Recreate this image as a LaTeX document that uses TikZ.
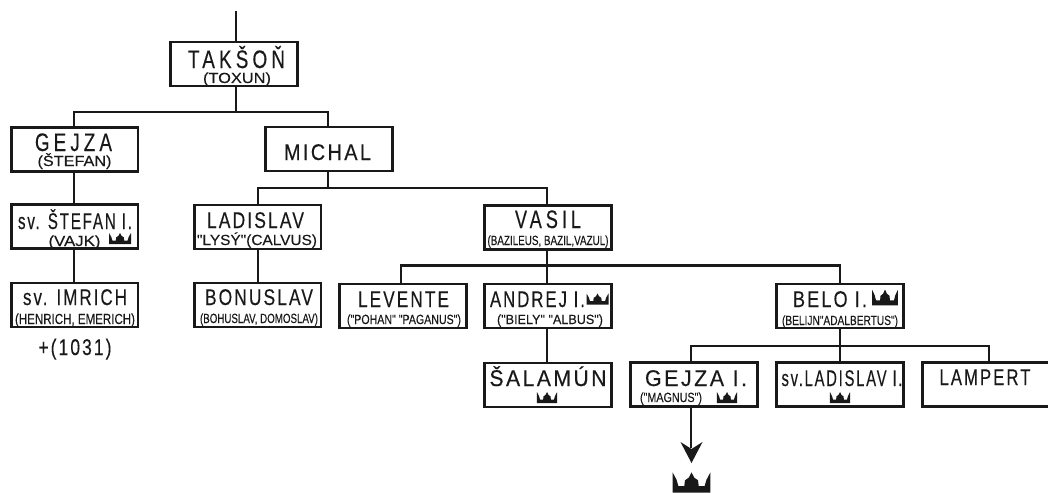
\documentclass[tikz,border=0pt]{standalone}
\usepackage{fontspec}
\usepackage{graphicx}
\setmainfont{Liberation Sans}
\newfontfamily\bigf[FakeBold=0.3,LetterSpace=22]{Liberation Sans}
\newfontfamily\medf[FakeBold=0.3,LetterSpace=12]{Liberation Sans}
\newfontfamily\smallf[FakeBold=0.2]{Liberation Sans}
\definecolor{ink}{gray}{0.1}
\tikzset{
  x=0.75pt,y=-0.75pt,
  person/.style={draw=ink,line width=2pt,minimum width=95pt,minimum height=33pt,inner sep=0pt,fill=white},
  link/.style={draw=ink,line width=2pt},
  label/.style={inner sep=0pt,text=ink,anchor=base},
  big/.style={label,font=\bigf\fontsize{19}{19}\selectfont},
  med/.style={label,font=\medf\fontsize{17}{17}\selectfont},
  small/.style={label,font=\smallf\fontsize{11}{11}\selectfont},
  tiny/.style={label,font=\smallf\fontsize{10}{10}\selectfont},
  crown/.pic={
    \fill[ink] (-11,5.5) -- (11,5.5) -- (11,-5.5) -- (8.7,-1.5) -- (7.6,2) -- (4.2,2) -- (3.8,-1.2) -- (1.6,-2.6) -- (0,-5.5) -- (-1.6,-2.6) -- (-3.8,-1.2) -- (-4.2,2) -- (-7.6,2) -- (-8.7,-1.5) -- (-11,-5.5) -- cycle;
  }
}
% name, x, baseline y, width in reference pixels, style, text
\newcommand\lab[6]{\node[#5] (#1) at (#2,#3) {\resizebox{\dimexpr#4pt*3/4\relax}{\height}{#6}};}
\begin{document}
\begin{tikzpicture}
\useasboundingbox (0,0) rectangle (1048,492);
% boxes
\node[person] (takson) at (234,64) {};
\node[person] (gejza) at (74.5,149.5) {};
\node[person] (michal) at (329,149) {};
\node[person] (stefan) at (74.5,226.5) {};
\node[person] (ladislav) at (257.5,227) {};
\node[person] (vasil) at (548,227.5) {};
\node[person] (imrich) at (74.5,305) {};
\node[person] (bonuslav) at (257.5,305) {};
\node[person] (levente) at (403,306) {};
\node[person] (andrej) at (548,306) {};
\node[person] (belo) at (840,306) {};
\node[person] (salamun) at (548,385) {};
\node[person] (gejzai) at (694,384.5) {};
\node[person] (svlad) at (840,384.5) {};
\node[person] (lampert) at (986,384.5) {};
% connectors
\coordinate (top) at (236,11);
\coordinate (j1) at (236,112);
\coordinate (j2) at (328,188);
\coordinate (j3) at (547,265.5);
\coordinate (j4) at (840,346);
\coordinate (sa) at (74,0);
\coordinate (sb) at (258,0);
\coordinate (sc) at (547,0);
\coordinate (sd) at (401,0);
\coordinate (se) at (691,0);
\coordinate (sf) at (989,0);
\draw[link] (top) -- (top |- takson.north);
\draw[link] (j1 |- takson.south) -- (j1);
\draw[link] (sa |- gejza.north) |- (j1) -| (j2 |- michal.north);
\draw[link] (sa |- gejza.south) -- (sa |- stefan.north);
\draw[link] (sa |- stefan.south) -- (sa |- imrich.north);
\draw[link] (j2 |- michal.south) -- (j2);
\draw[link] (sb |- ladislav.north) |- (j2) -| (sc |- vasil.north);
\draw[link] (sb |- ladislav.south) -- (sb |- bonuslav.north);
\draw[link] (sc |- vasil.south) -- (sc |- andrej.north);
\draw[link] (sd |- levente.north) |- (j3) -| (j4 |- belo.north);
\draw[link] (sc |- andrej.south) -- (sc |- salamun.north);
\draw[link] (j4 |- belo.south) -- (j4 |- svlad.north);
\draw[link] (se |- gejzai.north) |- (j4) -| (sf |- lampert.north);
\coordinate (arrowend) at (691.5,463);
\draw[link] (se |- gejzai.south) -- (691,448);
\fill[ink] (arrowend) -- (680.5,442) -- (691.5,449) -- (702.5,442) -- cycle;
% texts
\lab{t1}{236.5}{68}{97}{big}{TAKŠOŇ}
\lab{t1b}{237}{83}{68}{small}{(TOXUN)}
\lab{t2}{73.5}{151}{77}{big}{GEJZA}
\lab{t2b}{74.5}{166}{74}{small}{(ŠTEFAN)}
\lab{t3}{327.5}{160}{87}{med}{MICHAL}
\lab{t4}{75}{229}{114}{med}{sv. ŠTEFAN I.}
\lab{t4b}{74.5}{246}{52}{small}{(VAJK)}
\pic at (120,238.5) {crown};
\lab{t5}{75}{305}{104}{med}{sv. IMRICH}
\lab{t5b}{75}{324}{120}{small}{(HENRICH, EMERICH)}
\lab{t5c}{75}{355}{73}{med}{+(1031)}
\lab{t6}{255.5}{228}{97}{med}{LADISLAV}
\lab{t6b}{257}{245}{120}{small}{"LYSÝ"(CALVUS)}
\lab{t7}{259}{305}{108}{med}{BONUSLAV}
\lab{t7b}{259}{323}{118}{tiny}{(BOHUSLAV, DOMOSLAV)}
\lab{t8}{548}{228}{66}{big}{VASIL}
\lab{t8b}{548}{245}{121}{tiny}{(BAZILEUS, BAZIL,VAZUL)}
\lab{t9}{403.5}{307}{91}{med}{LEVENTE}
\lab{t9b}{404}{324}{114}{tiny}{("POHAN" "PAGANUS")}
\lab{t10}{537.5}{307}{95}{med}{ANDREJ I.}
\pic at (597.5,299) {crown};
\lab{t10b}{550}{324}{106}{tiny}{("BIELY" "ALBUS")}
\lab{t11}{548}{386}{117}{med}{ŠALAMÚN}
\pic[xscale=0.92] at (547,397.5) {crown};
\lab{t12}{696}{386}{102}{med}{GEJZA I.}
\lab{t12b}{671}{402}{62}{tiny}{("MAGNUS")}
\pic[xscale=0.92] at (727,397.5) {crown};
\lab{t13}{842}{386}{121}{med}{sv.LADISLAV I.}
\pic[xscale=0.92] at (840,397.5) {crown};
\lab{t14}{985}{385}{91}{med}{LAMPERT}
\lab{t15}{830}{307}{74}{med}{BELO I.}
\pic[xscale=1.18,yscale=1.45] at (885,297.5) {crown};
\lab{t15b}{840}{325}{116}{tiny}{(BELIJN"ADALBERTUS")}
\pic[xscale=1.72,yscale=1.85] at (691.5,482.5) {crown};
\end{tikzpicture}
\end{document}
